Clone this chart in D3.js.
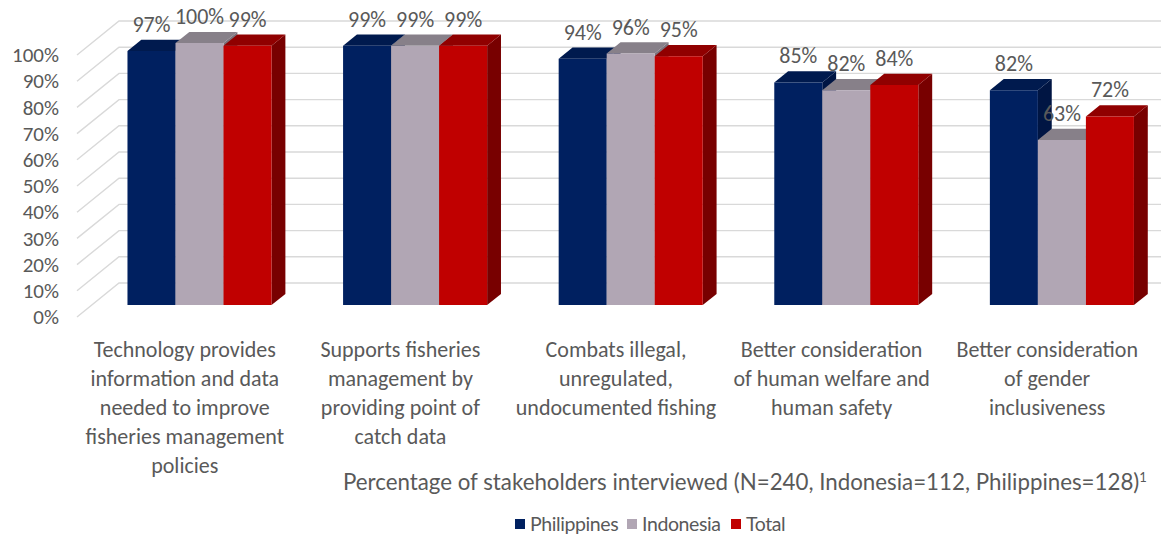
<!DOCTYPE html>
<html>
<head>
<meta charset="utf-8">
<script src="https://cdn.jsdelivr.net/npm/d3@7"></script>
<style>
  html, body { margin: 0; padding: 0; background: #fff; }
  svg { display: block; }
</style>
</head>
<body>
<svg id="chart" width="1161" height="539"></svg>
<script>
// ---- data ----
const categories = [
  "Technology provides\ninformation and data\nneeded to improve\nfisheries management\npolicies",
  "Supports fisheries\nmanagement by\nproviding point of\ncatch data",
  "Combats illegal,\nunregulated,\nundocumented fishing",
  "Better consideration\nof human welfare and\nhuman safety",
  "Better consideration\nof gender\ninclusiveness"
];
const seriesNames = ["Philippines", "Indonesia", "Total"];
const philippines = [97, 99, 94, 85, 82];
const indonesia   = [100, 99, 96, 82, 63];
const total       = [99, 99, 95, 84, 72];
const yTicks = [0, 10, 20, 30, 40, 50, 60, 70, 80, 90, 100];
const axisTitle = "Percentage of stakeholders interviewed (N=240, Indonesia=112, Philippines=128)";
const axisTitleNote = "1";

// ---- styling ----
const colors = {
  Philippines: { front: "#002060", top: "#001a4e", side: "#001543" },
  Indonesia:   { front: "#b1a6b4", top: "#878089", side: "#7a727c" },
  Total:       { front: "#c00000", top: "#900000", side: "#780000" }
};
const textColor = "#595959";
const gridColor = "#d9d9d9";
const calFont = "Carlito, Lato, 'Open Sans', sans-serif";
const gillFont = "'Gill Sans', 'Gill Sans MT', Lato, sans-serif";

const svg = d3.select("#chart");
const W = 1161, H = 539;

// front-plane scales
const x0 = d3.scaleBand().domain(d3.range(categories.length)).range([77, 1155]).paddingInner(0).paddingOuter(0);
const x1 = d3.scaleBand().domain(seriesNames).range([0, x0.bandwidth()]).paddingInner(0).paddingOuter(0.745);
const y = d3.scaleLinear().domain([0, 100]).range([317, 55]);

// oblique depth projection
const DX = 42, DY = -34;
const Z0 = 0.35, Z1 = 0.68;
function proj(x, v, z) { return [x + DX * z, y(v) + DY * z]; }

// ---- gridlines (side wall + back wall) ----
const grid = svg.append("g");
yTicks.forEach(t => {
  const a = proj(77, t, 0), b = proj(77, t, 1);
  grid.append("path")
    .attr("d", `M${a[0]},${a[1]}L${b[0]},${b[1]}L${W},${b[1]}`)
    .attr("fill", "none").attr("stroke", gridColor).attr("stroke-width", 1.4);
});

// ---- y axis labels ----
const yAxis = d3.axisLeft(y).tickValues(yTicks).tickFormat(d => d + "%").tickSize(0).tickPadding(19);
const gy = svg.append("g").attr("transform", "translate(78,0)").call(yAxis);
gy.select(".domain").remove();
gy.selectAll("text").attr("fill", textColor).style("font-family", calFont).style("font-size", "21px");

// ---- bars ----
const seriesValues = { Philippines: philippines, Indonesia: indonesia, Total: total };
const bars = [];
categories.forEach((c, i) => {
  seriesNames.forEach(s => {
    bars.push({ i, s, v: seriesValues[s][i], x: x0(i) + x1(s), w: x1.bandwidth() });
  });
});
const barG = svg.append("g");
const poly = pts => "M" + pts.map(p => p.join(",")).join("L") + "Z";
bars.forEach(d => {
  const g = barG.append("g");
  const xl = d.x, xr = d.x + d.w;
  g.append("path")
    .attr("d", poly([proj(xr, 0, Z0), proj(xr, d.v, Z0), proj(xr, d.v, Z1), proj(xr, 0, Z1)]))
    .attr("fill", colors[d.s].side);
  g.append("path")
    .attr("d", poly([proj(xl, d.v, Z0), proj(xr, d.v, Z0), proj(xr, d.v, Z1), proj(xl, d.v, Z1)]))
    .attr("fill", colors[d.s].top);
  g.append("path")
    .attr("d", poly([proj(xl, 0, Z0), proj(xr, 0, Z0), proj(xr, d.v, Z0), proj(xl, d.v, Z0)]))
    .attr("fill", colors[d.s].front);
});

// ---- value labels ----
svg.append("g").selectAll("text").data(bars).join("text")
  .attr("x", d => proj(d.x + d.w / 2, d.v, Z0)[0])
  .attr("y", d => proj(0, d.v, Z0)[1] - 19)
  .attr("text-anchor", "middle")
  .attr("fill", textColor)
  .style("font-family", calFont).style("font-size", "22px")
  .text(d => d.v + "%");

// ---- category labels ----
const catG = svg.append("g");
categories.forEach((c, i) => {
  const cx = x0(i) + x0.bandwidth() / 2;
  const t = catG.append("text")
    .attr("x", cx).attr("y", 357)
    .attr("text-anchor", "middle")
    .attr("fill", textColor)
    .style("font-family", calFont).style("font-size", "22px");
  c.split("\n").forEach((line, k) => {
    t.append("tspan").attr("x", cx).attr("dy", k === 0 ? 0 : 29).text(line);
  });
});

// ---- axis title ----
const title = svg.append("text")
  .attr("x", 343).attr("y", 490)
  .attr("fill", textColor)
  .style("font-family", gillFont).style("font-size", "22.3px");
title.append("tspan").text(axisTitle);
title.append("tspan").attr("dy", -8).style("font-size", "13px").text(axisTitleNote);

// ---- legend ----
const legendX = [515, 627, 731];
const lg = svg.append("g");
seriesNames.forEach((s, k) => {
  lg.append("rect").attr("x", legendX[k]).attr("y", 519).attr("width", 10).attr("height", 10)
    .attr("fill", colors[s].front);
  lg.append("text").attr("x", legendX[k] + 15).attr("y", 531)
    .attr("fill", textColor)
    .style("font-family", gillFont).style("font-size", "19.5px")
    .style("letter-spacing", "-0.4px")
    .text(s);
});
</script>
</body>
</html>
